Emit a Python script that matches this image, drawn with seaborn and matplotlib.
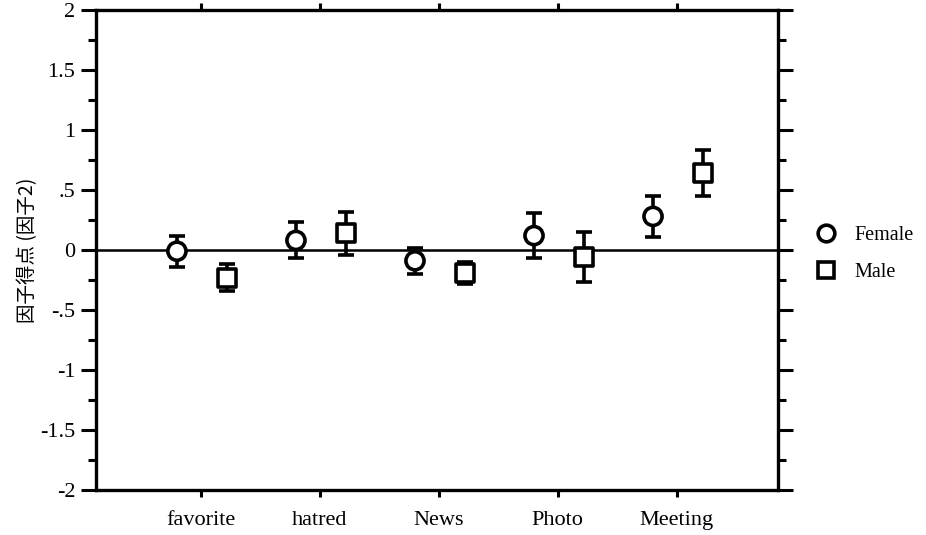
import matplotlib
matplotlib.use("Agg")
import matplotlib.pyplot as plt
import seaborn as sns
import pandas as pd
import numpy as np
from matplotlib.lines import Line2D
from matplotlib.ticker import MultipleLocator, FixedLocator

# ---- data ----
categories = ["favorite", "hatred", "News", "Photo", "Meeting"]
female_mean = [-0.01, 0.08, -0.09, 0.12, 0.28]
female_err = [0.13, 0.15, 0.11, 0.19, 0.17]
male_mean = [-0.23, 0.14, -0.19, -0.06, 0.64]
male_err = [0.11, 0.18, 0.09, 0.21, 0.19]
ytick_values = [-2, -1.5, -1, -0.5, 0, 0.5, 1, 1.5, 2]
ytick_labels = ["-2", "-1.5", "-1", "-.5", "0", ".5", "1", "1.5", "2"]
ylabel = "因子得点 (因子2)"
series_names = ["Female", "Male"]

# ---- layout ----
dodge = {"Female": -0.20, "Male": 0.22}

sns.set_theme(style="ticks")
plt.rcParams["font.family"] = ["Liberation Serif", "DejaVu Serif"]
plt.rcParams["text.color"] = "black"
plt.rcParams["axes.labelcolor"] = "black"
plt.rcParams["xtick.color"] = "black"
plt.rcParams["ytick.color"] = "black"

fig = plt.figure(figsize=(9.26, 5.35), dpi=100)
ax = fig.add_axes([96 / 926, 1 - 490 / 535, (778 - 96) / 926, 480 / 535])

idx = np.arange(len(categories))
df = pd.DataFrame({
    "cat": categories * 2,
    "x": np.concatenate([idx + dodge["Female"], idx + dodge["Male"]]),
    "y": female_mean + male_mean,
    "err": female_err + male_err,
    "sex": [series_names[0]] * len(categories) + [series_names[1]] * len(categories),
})

ax.axhline(0, color="black", lw=1.8, zorder=1)

for name in series_names:
    sub = df[df["sex"] == name]
    ax.errorbar(sub["x"], sub["y"], yerr=sub["err"], fmt="none",
                ecolor="black", elinewidth=2.6, capsize=5.5, capthick=2.6, zorder=2)

sns.scatterplot(data=df, x="x", y="y", style="sex",
                markers={"Female": "o", "Male": "s"},
                s=170, facecolor="white", edgecolor="black", linewidth=2.6,
                legend=False, ax=ax, zorder=3)

ax.set_xlim(-0.88, 4.85)
ax.set_ylim(-2, 2)
ax.set_xticks(idx)
ax.set_xticklabels(categories, fontsize=16, color="black")
ax.yaxis.set_major_locator(FixedLocator(ytick_values))
ax.set_yticklabels(ytick_labels, fontsize=16, color="black")
ax.yaxis.set_minor_locator(MultipleLocator(0.25))
ax.set_xlabel("")
ax.set_ylabel(ylabel, family=["Noto Sans CJK JP", "DejaVu Sans"], fontsize=14,
              labelpad=1, color="black")

for s in ax.spines.values():
    s.set_visible(True)
    s.set_linewidth(2.4)
    s.set_color("black")

ax.tick_params(axis="y", which="major", direction="out", length=11, width=2.2,
               left=True, right=True, labelleft=True, labelright=False, pad=4, colors="black")
ax.tick_params(axis="y", which="minor", direction="out", length=6, width=2.2,
               left=True, right=True)
ax.tick_params(axis="x", which="major", direction="out", length=5, width=2.2,
               bottom=True, top=True, pad=10, colors="black")
ax.tick_params(axis="x", which="minor", bottom=False, top=False)

handles = [
    Line2D([], [], marker="o", ls="none", markersize=12, mfc="white", mec="black", mew=2.6),
    Line2D([], [], marker="s", ls="none", markersize=12, mfc="white", mec="black", mew=2.6),
]
leg = fig.legend(handles, series_names, loc="center left", bbox_to_anchor=(806 / 926, 1 - 254 / 535),
                 frameon=False, prop={"size": 14.5},
                 handletextpad=0.8, labelspacing=0.85, borderaxespad=0, handlelength=1.2)
for t in leg.get_texts():
    t.set_color("black")

fig.savefig("out.png", dpi=100, facecolor="white")
